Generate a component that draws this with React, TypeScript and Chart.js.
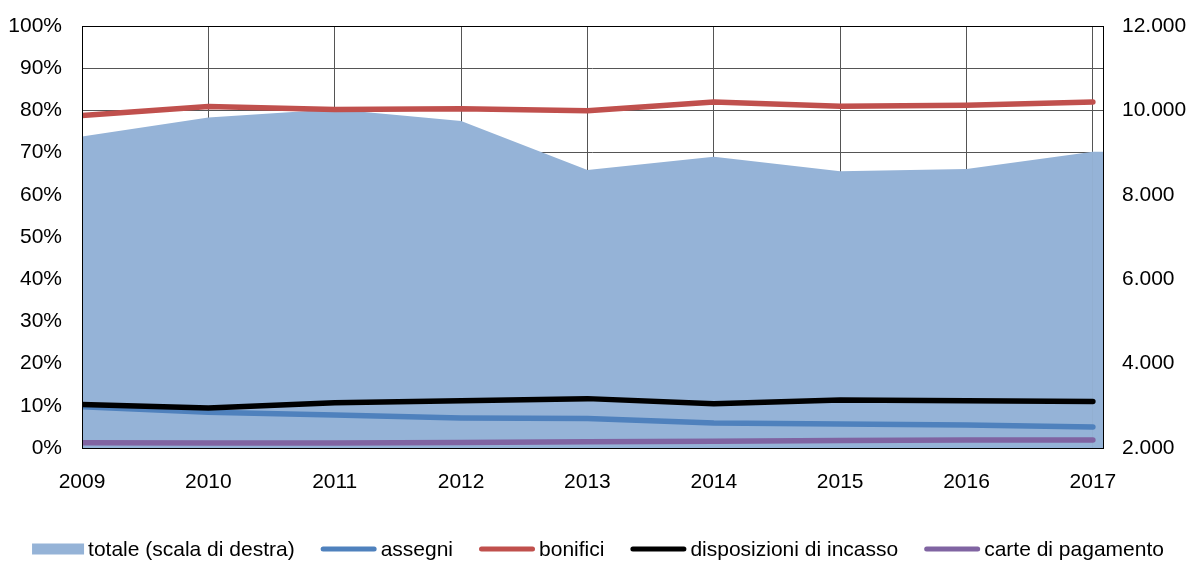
import React, { useEffect, useRef } from 'react';
import { Chart, registerables } from 'chart.js';

Chart.register(...registerables);

const years = [2009, 2010, 2011, 2012, 2013, 2014, 2015, 2016, 2017];
const totale = [9380, 9830, 10030, 9750, 8590, 8900, 8560, 8610, 9020];
const assegni = [9.8, 8.5, 7.8, 7.1, 7.0, 5.9, 5.7, 5.45, 5.0];
const bonifici = [78.8, 80.9, 80.2, 80.4, 79.9, 82.0, 81.0, 81.2, 82.0];
const disposizioni = [10.3, 9.5, 10.7, 11.2, 11.7, 10.5, 11.4, 11.2, 11.0];
const carte = [1.25, 1.2, 1.2, 1.3, 1.5, 1.6, 1.8, 1.9, 1.9];

const legendLabels = [
  'totale (scala di destra)',
  'assegni',
  'bonifici',
  'disposizioni di incasso',
  'carte di pagamento',
];

const COLORS = {
  totale: '#95B3D7',
  assegni: '#4F81BD',
  bonifici: '#C0504D',
  disposizioni: '#000000',
  carte: '#8064A2',
};

const FONT = '"Liberation Sans", Arial, Helvetica, sans-serif';

const pts = (vals: number[]) => years.map((yr, i) => ({ x: yr, y: vals[i] }));

// Extends the area fill of "totale" from its last point to the right edge of the plot
const areaEdgePlugin = {
  id: 'areaEdge',
  beforeDatasetsDraw(chart: any) {
    const { ctx, chartArea, scales } = chart;
    const last = totale.length - 1;
    const x0 = scales.x.getPixelForValue(years[last]);
    const yTop = scales.y1.getPixelForValue(totale[last]);
    ctx.save();
    ctx.fillStyle = COLORS.totale;
    ctx.fillRect(x0 - 0.5, yTop, chartArea.right - x0 + 0.5, chartArea.bottom - yTop);
    ctx.restore();
  },
};

const borderPlugin = {
  id: 'plotBorder',
  afterDatasetsDraw(chart: any) {
    const { ctx, chartArea } = chart;
    ctx.save();
    ctx.strokeStyle = '#000';
    ctx.lineWidth = 1;
    ctx.strokeRect(
      Math.round(chartArea.left) + 0.5,
      Math.round(chartArea.top) + 0.5,
      Math.round(chartArea.right - chartArea.left),
      Math.round(chartArea.bottom - chartArea.top)
    );
    ctx.restore();
  },
};

const legendPlugin = {
  id: 'customLegend',
  afterDraw(chart: any) {
    const { ctx } = chart;
    const items = [
      { kind: 'box', color: COLORS.totale, text: legendLabels[0] },
      { kind: 'line', color: COLORS.assegni, text: legendLabels[1] },
      { kind: 'line', color: COLORS.bonifici, text: legendLabels[2] },
      { kind: 'line', color: COLORS.disposizioni, text: legendLabels[3] },
      { kind: 'line', color: COLORS.carte, text: legendLabels[4] },
    ];
    const boxW = 52;
    const lineW = 56;
    const gapMarker = 4;
    const gapItem = 26;
    ctx.save();
    ctx.font = `21px ${FONT}`;
    ctx.textBaseline = 'middle';
    ctx.textAlign = 'left';
    let total = 0;
    items.forEach((it, i) => {
      const mw = it.kind === 'box' ? boxW : lineW;
      total += mw + gapMarker + ctx.measureText(it.text).width;
      if (i < items.length - 1) total += gapItem;
    });
    let x = 598 - total / 2;
    const cy = 549;
    items.forEach((it) => {
      if (it.kind === 'box') {
        ctx.fillStyle = it.color;
        ctx.fillRect(x, cy - 5.5, boxW, 11);
        x += boxW;
      } else {
        ctx.strokeStyle = it.color;
        ctx.lineWidth = 5;
        ctx.lineCap = 'round';
        ctx.beginPath();
        ctx.moveTo(x + 2.5, cy);
        ctx.lineTo(x + lineW - 2.5, cy);
        ctx.stroke();
        x += lineW;
      }
      x += gapMarker;
      ctx.fillStyle = '#000';
      ctx.fillText(it.text, x, cy + 1);
      x += ctx.measureText(it.text).width + gapItem;
    });
    ctx.restore();
  },
};

const lineDs = (label: string, vals: number[], color: string, order: number) => ({
  type: 'line' as const,
  label,
  data: pts(vals),
  borderColor: color,
  backgroundColor: color,
  borderWidth: 5.5,
  borderCapStyle: 'round' as const,
  borderJoinStyle: 'round' as const,
  pointRadius: 0,
  pointHoverRadius: 0,
  tension: 0,
  fill: false,
  yAxisID: 'y',
  order,
});

export default function App() {
  const ref = useRef<HTMLCanvasElement | null>(null);

  useEffect(() => {
    document.body.style.margin = '0';
    if (!ref.current) return;
    const chart = new Chart(ref.current, {
      type: 'line',
      data: {
        datasets: [
          {
            type: 'line',
            label: legendLabels[0],
            data: pts(totale),
            borderWidth: 0,
            borderColor: COLORS.totale,
            backgroundColor: COLORS.totale,
            pointRadius: 0,
            pointHoverRadius: 0,
            tension: 0,
            fill: 'start',
            yAxisID: 'y1',
            order: 10,
          } as any,
          lineDs(legendLabels[1], assegni, COLORS.assegni, 2),
          lineDs(legendLabels[2], bonifici, COLORS.bonifici, 1),
          lineDs(legendLabels[3], disposizioni, COLORS.disposizioni, 0),
          lineDs(legendLabels[4], carte, COLORS.carte, 3),
        ],
      },
      options: {
        animation: false,
        responsive: false,
        maintainAspectRatio: false,
        events: [],
        layout: { padding: { top: 26, left: 0, right: 0, bottom: 0 } },
        plugins: {
          legend: { display: false },
          tooltip: { enabled: false },
        },
        scales: {
          x: {
            type: 'linear',
            min: 2009,
            max: 2017.08,
            afterFit: (s: any) => {
              s.height = 113;
              s.paddingLeft = 0;
              s.paddingRight = 0;
            },
            border: { display: false },
            grid: { color: '#555555', lineWidth: 1, drawTicks: false },
            ticks: {
              stepSize: 1,
              includeBounds: false,
              autoSkip: false,
              maxRotation: 0,
              padding: 22,
              color: '#000',
              font: { family: FONT, size: 21 },
              callback: (v: any) => String(v),
            },
          },
          y: {
            type: 'linear',
            position: 'left',
            min: 0,
            max: 100,
            afterFit: (s: any) => {
              s.width = 82;
              s.paddingTop = 0;
              s.paddingBottom = 0;
            },
            border: { display: false },
            grid: { color: '#555555', lineWidth: 1, drawTicks: false },
            ticks: {
              stepSize: 10,
              padding: 20,
              color: '#000',
              font: { family: FONT, size: 21 },
              callback: (v: any) => `${v}%`,
            },
          },
          y1: {
            type: 'linear',
            position: 'right',
            min: 2000,
            max: 12000,
            afterFit: (s: any) => {
              s.width = 86;
              s.paddingTop = 0;
              s.paddingBottom = 0;
            },
            border: { display: false },
            grid: { drawOnChartArea: false, drawTicks: false },
            ticks: {
              stepSize: 2000,
              padding: 19,
              color: '#000',
              font: { family: FONT, size: 21 },
              callback: (v: any) => `${Number(v) / 1000}.000`,
            },
          },
        },
      } as any,
      plugins: [areaEdgePlugin, borderPlugin, legendPlugin],
    });
    return () => chart.destroy();
  }, []);

  return (
    <div style={{ position: 'absolute', left: 0, top: 0, width: 1189, height: 561 }}>
      <canvas ref={ref} width={1189} height={561} style={{ width: 1189, height: 561, display: 'block' }} />
    </div>
  );
}
